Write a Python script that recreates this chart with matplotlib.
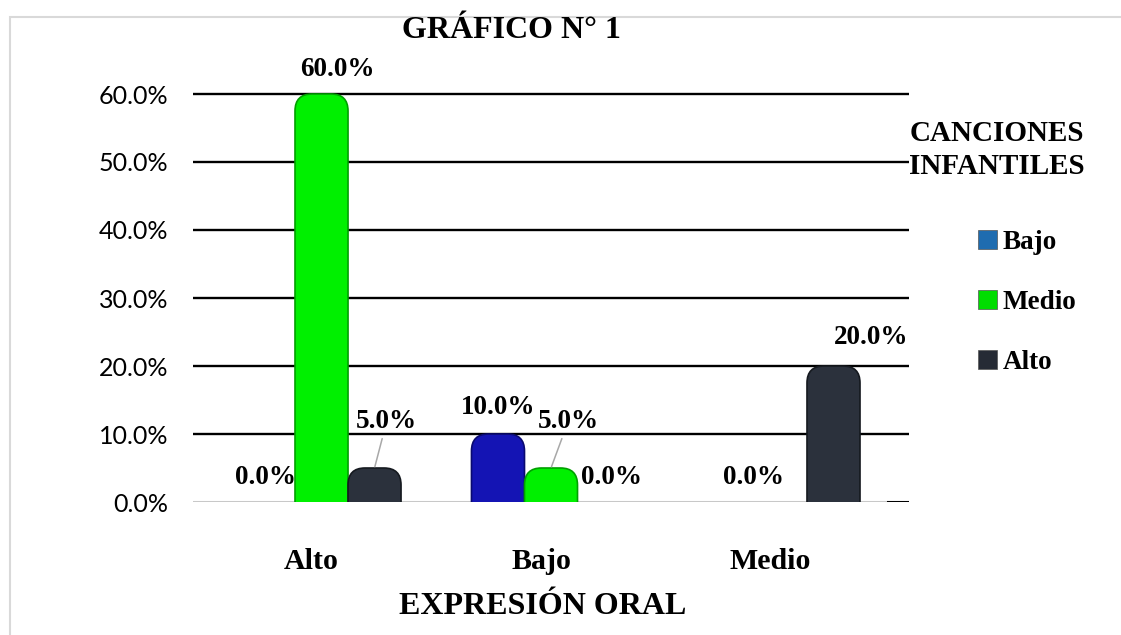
import matplotlib
matplotlib.use("Agg")
import numpy as np
from matplotlib import pyplot as plt
from matplotlib.patches import FancyBboxPatch, Rectangle
from matplotlib.transforms import ScaledTranslation

# datos del gráfico
categorias = ["Alto", "Bajo", "Medio"]
series = ["Bajo", "Medio", "Alto"]
valores_bajo = [0.0, 0.10, 0.0]
valores_medio = [0.60, 0.05, 0.0]
valores_alto = [0.05, 0.0, 0.20]
yticks = [0.0, 0.1, 0.2, 0.3, 0.4, 0.5, 0.6]

colores = ["#1414b4", "#00f000", "#2b313c"]
bordes = ["#0a0a70", "#00a000", "#15191f"]
colores_leyenda = ["#1f6cb0", "#00dd00", "#262b35"]

# desplazamiento de etiquetas (px) por serie / categoria; None = sin etiqueta
offsets = [
    [(-3, 25), (0, 26), None],
    [(16, 24), (17, 46), (-27, 25)],
    [(12, 46), (7, 25), (38, 29)],
]

SERIF = "Liberation Serif"

W, H = 1121, 635
fig = plt.figure(figsize=(W / 100, H / 100), dpi=100)
ax = fig.add_axes([193 / W, (H - 502) / H, (909 - 193) / W, (502 - 80.4) / H])

x = np.arange(len(categorias))
ancho = 0.231
ax.set_xlim(-0.56, 2.56)
ax.set_ylim(0, 0.62)

# gridlines
for t in yticks[1:]:
    ax.axhline(t, color="black", lw=1.7, zorder=1)
ax.axhline(0, color="#c8c8c8", lw=2.2, zorder=1)
ax.axhline(0, xmin=0.97, xmax=1.0, color="black", lw=2.2, zorder=1)

# barras con tope redondeado
px_x = (2.56 + 0.56) / (909 - 193)
px_y = 0.62 / (502 - 80.4)
aspecto = px_y / px_x
radio = 17 * px_x

todas = [valores_bajo, valores_medio, valores_alto]
contenedores = []
for i, vals in enumerate(todas):
    bars = ax.bar(x + (i - 1) * ancho, vals, ancho, color=colores[i],
                  label=series[i], zorder=2)
    contenedores.append(bars)
    for rect in bars:
        h = rect.get_height()
        rect.set_visible(False)
        if h <= 0:
            continue
        p = FancyBboxPatch((rect.get_x(), -radio * aspecto), rect.get_width(),
                           h + radio * aspecto,
                           boxstyle=f"round,pad=0,rounding_size={radio}",
                           mutation_aspect=aspecto, fc=colores[i],
                           ec=bordes[i], lw=1.2, zorder=3)
        ax.add_patch(p)

# etiquetas de valores
for i, vals in enumerate(todas):
    for j, v in enumerate(vals):
        off = offsets[i][j]
        if off is None:
            continue
        cx = x[j] + (i - 1) * ancho
        largo = off[1] > 40
        ax.annotate(f"{v * 100:.1f}%", xy=(cx, v),
                    xytext=(off[0] * 0.72, off[1] * 0.72),
                    textcoords="offset points", ha="center", va="center",
                    fontsize=19.5, fontweight="bold", family=SERIF,
                    annotation_clip=False, zorder=5,
                    arrowprops=dict(arrowstyle="-", color="#a8a8a8", lw=1.1,
                                    shrinkA=1, shrinkB=1) if largo else None)

ax.set_yticks(yticks)
ax.set_yticklabels([f"{t * 100:.1f}%" for t in yticks], family=["Lato", "DejaVu Sans"],
                   fontsize=18)
ax.tick_params(axis="y", length=0, pad=18)
ax.set_xticks(x)
ax.set_xticklabels(categorias, family=SERIF, fontweight="bold", fontsize=21.5)
ax.tick_params(axis="x", length=0, pad=33)
desp = ScaledTranslation(-10 / 100, 0, fig.dpi_scale_trans)
for lab in ax.get_xticklabels():
    lab.set_transform(lab.get_transform() + desp)
for s in ax.spines.values():
    s.set_visible(False)

# titulos
fig.text(511 / W, 1 - 31 / H, "GRÁFICO N° 1", ha="center", va="center",
         family=SERIF, fontweight="bold", fontsize=23)
fig.text(543 / W, 1 - 606 / H, "EXPRESIÓN ORAL", ha="center", va="center",
         family=SERIF, fontweight="bold", fontsize=23)
fig.text(997 / W, 1 - 150 / H, "CANCIONES\nINFANTILES", ha="center", va="center",
         family=SERIF, fontweight="bold", fontsize=21, linespacing=1.3)

# leyenda
leg = fig.legend(handles=contenedores, labels=series, loc="upper left",
                 bbox_to_anchor=(978 / W, 1 - 230 / H), frameon=False,
                 prop=dict(family=SERIF, weight="bold", size=19.5),
                 handlelength=0.7, handleheight=0.7, handletextpad=0.2,
                 labelspacing=1.3, borderpad=0, borderaxespad=0)
for h, c in zip(leg.legend_handles, colores_leyenda):
    h.set_visible(True)
    h.set_facecolor(c)
    h.set_edgecolor("#555555")
    h.set_linewidth(0.5)

# marco
fig.add_artist(Rectangle((10 / W, -0.1), 2, 1.1 - 17 / H, transform=fig.transFigure,
                         fill=False, ec="#d9d9d9", lw=1.5))

fig.savefig("out.png", dpi=100)
plt.close(fig)
